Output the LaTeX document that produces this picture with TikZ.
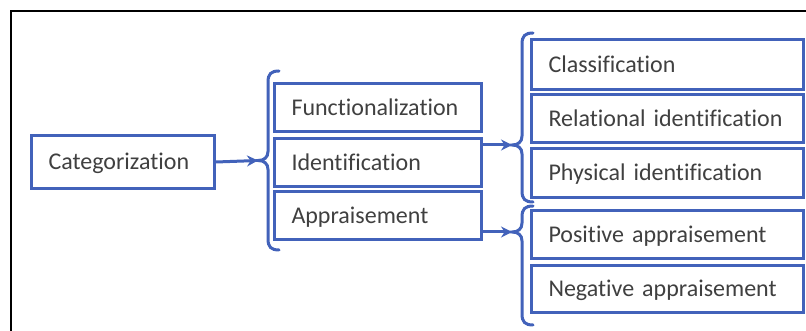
\documentclass[tikz,border=0pt]{standalone}
\usepackage{fontspec}
\setmainfont{Carlito}[Ligatures={NoCommon}]
\usetikzlibrary{arrows.meta}
\definecolor{boxblue}{RGB}{66,98,186}
\definecolor{txtgray}{RGB}{64,64,64}
% curly brace: x of spine, top y, bottom y, y of the cusp (all in pt, y downwards)
\newcommand\spinebrace[4]{%
  \draw[bracestyle] (#1+11,-#2) .. controls (#1+3,-#2) and (#1,-#2-3) .. (#1,-#2-11)
    -- (#1,-#4+9) .. controls (#1,-#4+3) and (#1-4,-#4) .. (#1-10,-#4)
    .. controls (#1-4,-#4) and (#1,-#4-3) .. (#1,-#4-9)
    -- (#1,-#3+11) .. controls (#1,-#3+3) and (#1+3,-#3) .. (#1+11,-#3);}
\begin{document}
\begin{tikzpicture}[x=1pt,y=1pt,
  box/.style={draw=boxblue, line width=3pt, rectangle, anchor=north west,
    inner xsep=17pt, inner ysep=0pt, align=left, text=txtgray,
    font=\fontsize{24}{28}\selectfont, text height=15.4pt, text depth=0pt},
  bracestyle/.style={draw=boxblue, line width=3pt, line cap=round},
  link/.style={draw=boxblue, line width=3pt, -{Stealth[length=11pt,width=11pt]}},
  frame/.style={draw=black, line width=2.2pt}]
\useasboundingbox (0,0) rectangle (806,-331);
\fill[white] (0,0) rectangle (806,-331);
% outer frame
\draw[frame] (11,-331) -- (11,-11) -- (806,-11);

% boxes
\node[box, minimum width=183pt, minimum height=53pt, text width=149pt] (cat) at (30,-134) {Categorization};

\node[box, minimum width=207pt, minimum height=48pt, text width=173pt] (fun) at (273,-82) {Functionalization};
\node[box, minimum width=207pt, minimum height=48pt, text width=173pt] (ide) at (273,-137) {Identification};
\node[box, minimum width=207pt, minimum height=48pt, text width=173pt] (app) at (273,-190) {Appraisement};

\node[box, minimum width=272pt, minimum height=50pt, text width=238pt] (cla) at (530,-38) {Classification};
\node[box, minimum width=272pt, minimum height=48pt, text width=238pt] (rel) at (530,-93) {Relational identification};
\node[box, minimum width=272pt, minimum height=49pt, text width=238pt] (phy) at (530,-147) {Physical identification};
\node[box, minimum width=272pt, minimum height=48pt, text width=238pt] (pos) at (530,-209) {Positive appraisement};
\node[box, minimum width=272pt, minimum height=47pt, text width=238pt] (neg) at (530,-264) {Negative appraisement};

% braces
\spinebrace{268}{71}{250}{160.5}
\spinebrace{522}{33}{202}{145}
\spinebrace{522}{206}{325}{232}

% cusp points of the braces
\coordinate (tipA) at (258,-160.5);
\coordinate (tipB) at (512,-145);
\coordinate (tipC) at (512,-232);

% connectors
\draw[link] (cat.east) -- (tipA);
\draw[link] (tipB -| ide.east) -- (tipB);
\draw[link] (tipC -| app.east) -- (tipC);
\end{tikzpicture}
\end{document}
